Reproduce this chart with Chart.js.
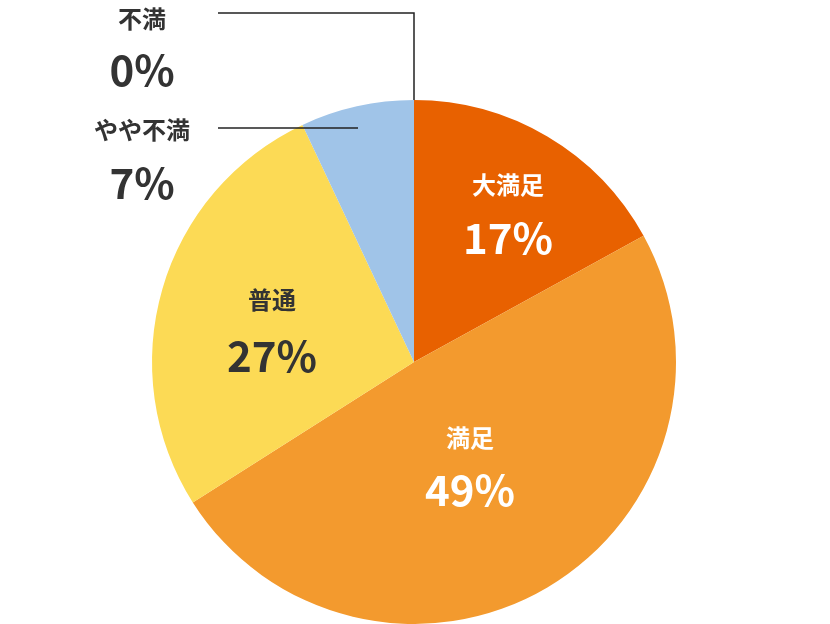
<!DOCTYPE html>
<html><head><meta charset="utf-8">
<script src="https://cdn.jsdelivr.net/npm/chart.js@4"></script>
<style>html,body{margin:0;padding:0;background:#fff}#w{width:830px;height:624px}</style>
</head><body><div id="w"><canvas id="c"></canvas></div>
<script>
const categories = ['大満足','満足','普通','やや不満','不満'];
const values = [17,49,27,7,0];
const colors = ['#E86100','#F39A2E','#FCDA55','#A0C4E8','#CCCCCC'];
const font = '"Noto Sans CJK JP","Noto Sans",sans-serif';
const labelPlugin = {
  id:'lbl',
  afterDraw(chart){
    const ctx = chart.ctx, arcs = chart.getDatasetMeta(0).data;
    ctx.save();
    ctx.textAlign='center'; ctx.textBaseline='middle';
    const inside = [[508,185,238,'#fff'],[470,438,490,'#fff'],[272,300,356,'#333']];
    inside.forEach((p,i)=>{
      ctx.fillStyle=p[3];
      ctx.font='bold 24px '+font; ctx.fillText(categories[i],p[0],p[1]);
      ctx.font='bold 42px '+font; ctx.fillText(values[i]+'%',p[0],p[2]);
    });
    // outside labels
    const a3 = arcs[3], a4 = arcs[4];
    ctx.fillStyle='#333';
    ctx.font='bold 24px '+font; ctx.fillText(categories[3],142,130);
    ctx.font='bold 42px '+font; ctx.fillText(values[3]+'%',142,183);
    ctx.font='bold 24px '+font; ctx.fillText(categories[4],142,19);
    ctx.font='bold 42px '+font; ctx.fillText(values[4]+'%',142,70);
    ctx.strokeStyle='#222'; ctx.lineWidth=1.5;
    ctx.beginPath(); ctx.moveTo(218,128); ctx.lineTo(358,128); ctx.stroke();
    const cx=a4.x, top=a4.y-a4.outerRadius;
    ctx.beginPath(); ctx.moveTo(218,13); ctx.lineTo(cx,13); ctx.lineTo(cx,top); ctx.stroke();
    ctx.restore();
  }
};
new Chart(document.getElementById('c'),{
  type:'pie',
  data:{labels:categories,datasets:[{data:values,backgroundColor:colors,borderWidth:0}]},
  options:{responsive:true,maintainAspectRatio:false,animation:false,
    layout:{padding:{top:100,bottom:0,left:0,right:2}},
    plugins:{legend:{display:false},tooltip:{enabled:false}}},
  plugins:[labelPlugin]
});
</script></body></html>
